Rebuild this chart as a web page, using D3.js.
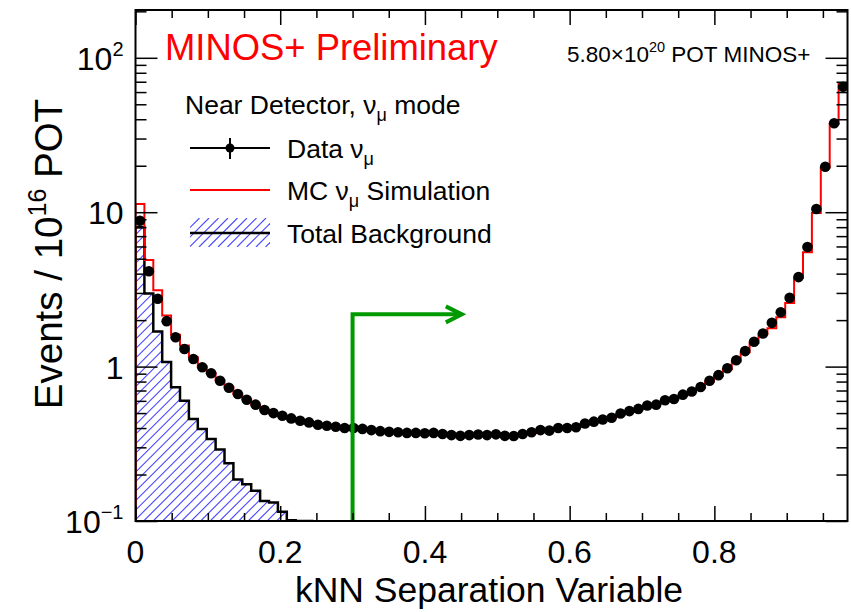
<!DOCTYPE html>
<html>
<head>
<meta charset="utf-8">
<script src="https://cdn.jsdelivr.net/npm/d3@7"></script>
<style>
  body { margin: 0; background: #fff; }
  svg { display: block; font-family: "Liberation Sans", Arial, Helvetica, sans-serif; }
</style>
</head>
<body>
<script>
'use strict';

(function() {

const width = 851;
const height = 612;

// histogram: 80 bins on the kNN variable
const xMax = 0.984;
const nBins = 80;

// data points (events / 1e16 POT)
const dataValues = [
  8.8, 4.15, 2.75, 1.97, 1.55, 1.30, 1.12, 0.99, 0.905, 0.81,
  0.73, 0.665, 0.61, 0.567, 0.523, 0.50, 0.48, 0.462, 0.446, 0.435,
  0.42, 0.414, 0.408, 0.40, 0.40, 0.395, 0.388, 0.382, 0.378, 0.376,
  0.372, 0.372, 0.37, 0.372, 0.366, 0.36, 0.356, 0.36, 0.363, 0.36,
  0.364, 0.356, 0.355, 0.366, 0.376, 0.388, 0.385, 0.40, 0.40, 0.405,
  0.428, 0.44, 0.454, 0.466, 0.497, 0.515, 0.532, 0.56, 0.567, 0.605,
  0.617, 0.658, 0.69, 0.737, 0.81, 0.88, 0.975, 1.10, 1.26, 1.45,
  1.64, 1.92, 2.25, 2.79, 3.80, 5.95, 10.5, 19.7, 37.7, 65
];

// MC simulation
const mcValues = [
  11.3, 4.9, 3.12, 2.14, 1.61, 1.37, 1.15, 1.0, 0.91, 0.815,
  0.735, 0.668, 0.612, 0.565, 0.525, 0.498, 0.478, 0.46, 0.445, 0.432,
  0.42, 0.412, 0.405, 0.40, 0.398, 0.392, 0.386, 0.381, 0.377, 0.374,
  0.371, 0.37, 0.368, 0.369, 0.365, 0.36, 0.358, 0.359, 0.36, 0.36,
  0.361, 0.358, 0.358, 0.364, 0.372, 0.382, 0.386, 0.395, 0.40, 0.407,
  0.425, 0.437, 0.45, 0.465, 0.49, 0.51, 0.53, 0.552, 0.57, 0.6,
  0.615, 0.65, 0.685, 0.73, 0.8, 0.87, 0.96, 1.08, 1.24, 1.42,
  1.62, 1.77, 2.09, 2.58, 3.76, 5.5, 9.9, 19.5, 37.3, 67.6
];

// total background (first bins only, rest below the axis)
const bkgValues = [
  8.0, 2.97, 1.69, 1.07, 0.734, 0.60, 0.457, 0.394, 0.34, 0.29,
  0.237, 0.186, 0.173, 0.157, 0.135, 0.132, 0.115, 0.101, 0.09, 0.08
];

const xTicks = [0, 0.2, 0.4, 0.6, 0.8];
const xTickLabels = ['0', '0.2', '0.4', '0.6', '0.8'];
const yTicks = [0.1, 1, 10, 100];
const yTickLabels = [['10', '\u22121'], ['1', ''], ['10', ''], ['10', '2']];

const margin = {left: 135.5, right: 3.5, top: 10, bottom: 91};
const hatchColor = '#4646ff';
const hatchStep = 9.5;

const binWidth = xMax / nBins;
const binLo = i => i * binWidth;

let x = d3.scaleLinear()
    .domain([0, xMax])
    .range([margin.left, width - margin.right]);

let y = d3.scaleLog()
    .domain([0.1, 204])
    .range([height - margin.bottom, margin.top])
    .clamp(true);

const x0 = x.range()[0], x1 = x.range()[1];
const yb = y.range()[0], yt = y.range()[1];

let svg = d3.select('body').append('svg')
    .attr('width', width)
    .attr('height', height);

let defs = svg.append('defs');

defs.append('clipPath').attr('id', 'plotclip')
  .append('rect')
    .attr('x', x0).attr('y', yt)
    .attr('width', x1 - x0).attr('height', yb - yt);

// draws "///" hatching inside a clip path
function hatch(parent, clipId, bx0, by0, bx1, by1) {
  let g = parent.append('g')
      .attr('clip-path', `url(#${clipId})`)
      .attr('stroke', hatchColor)
      .attr('stroke-width', 1.1);
  const h = by1 - by0;
  for (let k = bx0 - h; k < bx1; k += hatchStep) {
    g.append('line')
        .attr('x1', k).attr('y1', by1)
        .attr('x2', k + h).attr('y2', by0);
  }
}

let plot = svg.append('g').attr('clip-path', 'url(#plotclip)');

function stepPoints(vals) {
  let pts = vals.map((v, i) => [binLo(i), Math.max(v, 0.1)]);
  pts.push([binLo(vals.length), Math.max(vals[vals.length - 1], 0.1)]);
  return pts;
}

// background fill + outline
let bkgPts = stepPoints(bkgValues);
defs.append('clipPath').attr('id', 'bkgclip')
  .append('path')
    .datum(bkgPts)
    .attr('d', d3.area()
        .curve(d3.curveStepAfter)
        .x(d => x(d[0]))
        .y0(yb)
        .y1(d => y(d[1])));
hatch(plot, 'bkgclip', x0, y(bkgValues[0]) - 2, x(binLo(bkgValues.length)), yb);

let bkgLine = [[0, 0.1]].concat(bkgPts);
plot.append('path')
    .datum(bkgLine)
    .attr('fill', 'none')
    .attr('stroke', '#000')
    .attr('stroke-width', 2.5)
    .attr('d', d3.line()
        .curve(d3.curveStepAfter)
        .x(d => x(d[0]))
        .y(d => y(d[1])));

// MC histogram
let mcLine = [[0, 0.1]].concat(stepPoints(mcValues));
plot.append('path')
    .datum(mcLine)
    .attr('fill', 'none')
    .attr('stroke', '#ff0000')
    .attr('stroke-width', 2)
    .attr('d', d3.line()
        .curve(d3.curveStepAfter)
        .x(d => x(d[0]))
        .y(d => y(d[1])));

// data points
plot.selectAll('circle.data')
    .data(dataValues).enter()
    .append('circle')
    .attr('class', 'data')
    .attr('cx', (d, i) => x(binLo(i) + binWidth / 2))
    .attr('cy', d => y(d))
    .attr('r', 5.3)
    .attr('fill', '#000');

// green cut arrow
const cutX = 0.3, cutY = 2.18, arrowEnd = 0.451;
let green = svg.append('g')
    .attr('fill', 'none')
    .attr('stroke', '#009900')
    .attr('stroke-width', 4);
green.append('path')
    .attr('d', `M${x(cutX)},${yb} L${x(cutX)},${y(cutY)} L${x(arrowEnd)},${y(cutY)}`);
green.append('path')
    .attr('d', `M${x(arrowEnd) - 16},${y(cutY) - 8} L${x(arrowEnd)},${y(cutY)} L${x(arrowEnd) - 16},${y(cutY) + 8}`);

// axes ticks (ROOT style: inside, on all four sides)
function minorLog() {
  let out = [];
  [0.1, 1, 10, 100].forEach(dec => {
    for (let k = 2; k <= 9; k++) {
      let v = dec * k;
      if (v < y.domain()[1]) out.push(v);
    }
  });
  return out;
}
const xMinor = d3.range(0.05, xMax, 0.05).filter(v => Math.abs(v / 0.2 - Math.round(v / 0.2)) > 1e-6);

function styleAxis(g) {
  g.select('.domain').remove();
  g.selectAll('.tick line').attr('stroke', '#000').attr('stroke-width', 1.5);
  g.selectAll('.tick text').remove();
}

svg.append('g').attr('transform', `translate(0,${yb})`)
    .call(d3.axisBottom(x).tickValues(xTicks).tickSize(-15)).call(styleAxis);
svg.append('g').attr('transform', `translate(0,${yb})`)
    .call(d3.axisBottom(x).tickValues(xMinor).tickSize(-8)).call(styleAxis);
svg.append('g').attr('transform', `translate(0,${yt})`)
    .call(d3.axisTop(x).tickValues(xTicks).tickSize(-15)).call(styleAxis);
svg.append('g').attr('transform', `translate(0,${yt})`)
    .call(d3.axisTop(x).tickValues(xMinor).tickSize(-8)).call(styleAxis);

svg.append('g').attr('transform', `translate(${x0},0)`)
    .call(d3.axisLeft(y).tickValues(yTicks).tickSize(-22)).call(styleAxis);
svg.append('g').attr('transform', `translate(${x0},0)`)
    .call(d3.axisLeft(y).tickValues(minorLog()).tickSize(-11)).call(styleAxis);
svg.append('g').attr('transform', `translate(${x1},0)`)
    .call(d3.axisRight(y).tickValues(yTicks).tickSize(-22)).call(styleAxis);
svg.append('g').attr('transform', `translate(${x1},0)`)
    .call(d3.axisRight(y).tickValues(minorLog()).tickSize(-11)).call(styleAxis);

// frame
svg.append('rect')
    .attr('x', x0).attr('y', yt)
    .attr('width', x1 - x0).attr('height', yb - yt)
    .attr('fill', 'none')
    .attr('stroke', '#000')
    .attr('stroke-width', 2);

// tick labels
svg.selectAll('text.xlab')
    .data(xTicks).enter()
    .append('text')
    .attr('class', 'xlab')
    .attr('x', d => x(d))
    .attr('y', yb + 42)
    .attr('text-anchor', 'middle')
    .attr('font-size', 32)
    .text((d, i) => xTickLabels[i]);

yTicks.forEach((v, i) => {
  let t = svg.append('text')
      .attr('x', x0 - 12)
      .attr('y', y(v) + 12)
      .attr('text-anchor', 'end')
      .attr('font-size', 32);
  t.append('tspan').text(yTickLabels[i][0]);
  if (yTickLabels[i][1]) {
    t.append('tspan')
        .attr('dy', -14)
        .attr('font-size', 20)
        .text(yTickLabels[i][1]);
  }
});

// axis titles
svg.append('text')
    .attr('x', 489)
    .attr('y', 602)
    .attr('text-anchor', 'middle')
    .attr('font-size', 35.5)
    .text('kNN Separation Variable');

let ytitle = svg.append('text')
    .attr('transform', 'translate(62,254) rotate(-90)')
    .attr('text-anchor', 'middle')
    .attr('font-size', 38.5);
ytitle.append('tspan').text('Events / 10');
ytitle.append('tspan').attr('dy', -16).attr('font-size', 25).text('16');
ytitle.append('tspan').attr('dy', 16).text(' POT');

// header texts
svg.append('text')
    .attr('x', 165)
    .attr('y', 60)
    .attr('fill', '#ff0000')
    .attr('font-size', 36.4)
    .text('MINOS+ Preliminary');

let pot = svg.append('text')
    .attr('x', 567)
    .attr('y', 62)
    .attr('font-size', 22.5);
pot.append('tspan').text('5.80\u00d710');
pot.append('tspan').attr('dy', -10).attr('font-size', 14.5).text('20');
pot.append('tspan').attr('dy', 10).text(' POT MINOS+');

// legend
function nuMu(sel, before, after) {
  sel.append('tspan').text(before + '\u03bd');
  sel.append('tspan').attr('dy', 7).attr('font-size', 18).text('\u03bc');
  sel.append('tspan').attr('dy', -7).text(after);
}

let legend = svg.append('g').attr('font-size', 26.5);

nuMu(legend.append('text').attr('x', 185).attr('y', 114), 'Near Detector, ', ' mode');

const legY = [148, 190, 233];
const legX0 = 190, legX1 = 270, legText = 287;

legend.append('line')
    .attr('x1', legX0).attr('x2', legX1)
    .attr('y1', legY[0]).attr('y2', legY[0])
    .attr('stroke', '#000').attr('stroke-width', 2);
legend.append('line')
    .attr('x1', (legX0 + legX1) / 2).attr('x2', (legX0 + legX1) / 2)
    .attr('y1', legY[0] - 10).attr('y2', legY[0] + 11)
    .attr('stroke', '#000').attr('stroke-width', 2);
legend.append('circle')
    .attr('cx', (legX0 + legX1) / 2).attr('cy', legY[0])
    .attr('r', 4.5).attr('fill', '#000');
nuMu(legend.append('text').attr('x', legText).attr('y', legY[0] + 10), 'Data ', '');

legend.append('line')
    .attr('x1', legX0).attr('x2', legX1)
    .attr('y1', legY[1]).attr('y2', legY[1])
    .attr('stroke', '#ff0000').attr('stroke-width', 2);
nuMu(legend.append('text').attr('x', legText).attr('y', legY[1] + 10), 'MC ', ' Simulation');

defs.append('clipPath').attr('id', 'legclip')
  .append('rect')
    .attr('x', legX0).attr('y', legY[2] - 15)
    .attr('width', legX1 - legX0).attr('height', 29);
hatch(legend, 'legclip', legX0, legY[2] - 15, legX1, legY[2] + 14);
legend.append('line')
    .attr('x1', legX0).attr('x2', legX1)
    .attr('y1', legY[2]).attr('y2', legY[2])
    .attr('stroke', '#000').attr('stroke-width', 2.5);
legend.append('text')
    .attr('x', legText).attr('y', legY[2] + 10)
    .text('Total Background');

})();
</script>
</body>
</html>
